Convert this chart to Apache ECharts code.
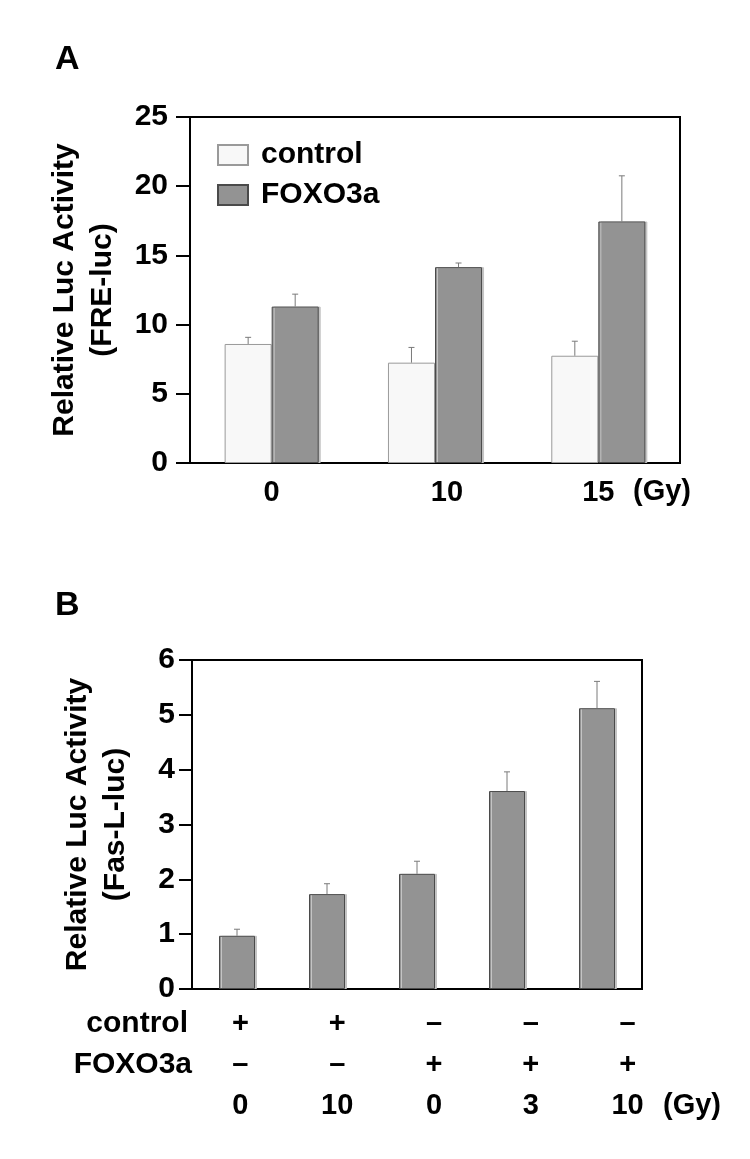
<!DOCTYPE html>
<html>
<head>
<meta charset="utf-8">
<script src="https://cdn.jsdelivr.net/npm/echarts@6/dist/echarts.min.js"></script>
<style>
html,body{margin:0;padding:0;background:#fff;}
#chart{width:750px;height:1159px;}
</style>
</head>
<body>
<div id="chart"></div>
<script>
// Panel A data
const doseA = ['0', '10', '15'];
const controlA = [8.6, 7.25, 7.75];
const controlErrA = [0.48, 1.1, 1.05];
const foxoA = [11.3, 14.15, 17.45];
const foxoErrA = [0.9, 0.3, 3.3];
const yTicksA = { min: 0, max: 25, interval: 5 };

// Panel B data
const controlRowB = ['+', '+', '–', '–', '–'];
const foxoRowB = ['–', '–', '+', '+', '+'];
const doseB = ['0', '10', '0', '3', '10'];
const valuesB = [0.97, 1.73, 2.10, 3.61, 5.12];
const errB = [0.12, 0.19, 0.23, 0.35, 0.49];
const yTicksB = { min: 0, max: 6, interval: 1 };

const FONT = '"Liberation Sans", Arial, Helvetica, sans-serif';
const chart = echarts.init(document.getElementById('chart'), null, { renderer: 'canvas' });

function errRenderer(offsetFrac) {
  return function (params, api) {
    const idx = api.value(0), v = api.value(1), e = api.value(2);
    const band = api.size([1, 0])[0];
    const p0 = api.coord([idx, v]);
    const p1 = api.coord([idx, v + e]);
    const x = p0[0] + offsetFrac * band;
    const cap = 3;
    const st = { stroke: '#7a7a7a', lineWidth: 1 };
    return {
      type: 'group',
      children: [
        { type: 'line', shape: { x1: x, y1: p0[1], x2: x, y2: p1[1] }, style: st },
        { type: 'line', shape: { x1: x - cap, y1: p1[1], x2: x + cap, y2: p1[1] }, style: st }
      ]
    };
  };
}

const axisLineStyle = { show: true, lineStyle: { color: '#000', width: 2 } };
const yLabel = { fontSize: 30, fontWeight: 'bold', color: '#000', fontFamily: FONT };

const foxoStyle = { color: '#939393', borderColor: '#4a4a4a', borderWidth: 1, shadowColor: '#c4c4c4', shadowOffsetX: 2, shadowBlur: 0 };
const ctrlStyle = { color: '#f8f8f8', borderColor: '#9a9a9a', borderWidth: 1 };

const option = {
  backgroundColor: '#fff',
  animation: false,
  textStyle: { fontFamily: FONT },
  title: [
    { text: 'A', left: 50, top: 38, textStyle: { fontSize: 34, fontWeight: 'bold', color: '#000', fontFamily: FONT } },
    { text: 'B', left: 50, top: 584, textStyle: { fontSize: 34, fontWeight: 'bold', color: '#000', fontFamily: FONT } }
  ],
  legend: {
    data: ['control', 'FOXO3a'],
    orient: 'vertical',
    left: 217, top: 140,
    padding: 0,
    itemWidth: 30, itemHeight: 20, itemGap: 10,
    icon: 'rect',
    textStyle: { fontSize: 30, fontWeight: 'bold', color: '#000', lineHeight: 30, fontFamily: FONT, padding: [0, 0, 0, 8] }
  },
  grid: [
    { left: 190, top: 117, width: 490, height: 346, show: true, borderColor: '#000', borderWidth: 2, backgroundColor: 'transparent' },
    { left: 192, top: 660, width: 450, height: 329, show: true, borderColor: '#000', borderWidth: 2, backgroundColor: 'transparent' },
    { left: 192, top: 660, width: 484, height: 329 }
  ],
  xAxis: [
    {
      type: 'category', gridIndex: 0,
      data: doseA.map((d, i) => i === 1 ? { value: d, textStyle: { padding: [0, 0, 0, 24] } } : d),
      axisLine: axisLineStyle, axisTick: { show: false },
      axisLabel: { fontSize: 29, fontWeight: 'bold', color: '#000', margin: 15, fontFamily: FONT }
    },
    {
      type: 'category', gridIndex: 1, data: doseB,
      axisLine: axisLineStyle, axisTick: { show: false }, axisLabel: { show: false }
    },
    {
      type: 'category', gridIndex: 2,
      data: doseB.map((d, i) => controlRowB[i] + '\n' + foxoRowB[i] + '\n' + d),
      axisLine: { show: false }, axisTick: { show: false },
      axisLabel: { fontSize: 29, fontWeight: 'bold', color: '#000', lineHeight: 41, margin: 14, fontFamily: FONT }
    }
  ],
  yAxis: [
    {
      type: 'value', gridIndex: 0, min: yTicksA.min, max: yTicksA.max, interval: yTicksA.interval,
      name: 'Relative Luc Activity\n(FRE-luc)', nameLocation: 'middle', nameRotate: 90, nameGap: 68,
      nameTextStyle: { fontSize: 30, fontWeight: 'bold', color: '#000', lineHeight: 38, fontFamily: FONT },
      axisLine: axisLineStyle,
      axisTick: { show: true, inside: false, length: 14, lineStyle: { color: '#000', width: 2 } },
      axisLabel: Object.assign({ margin: 22 }, yLabel),
      splitLine: { show: false }
    },
    {
      type: 'value', gridIndex: 1, min: yTicksB.min, max: yTicksB.max, interval: yTicksB.interval,
      name: 'Relative Luc Activity\n(Fas-L-luc)', nameLocation: 'middle', nameRotate: 90, nameGap: 57,
      nameTextStyle: { fontSize: 30, fontWeight: 'bold', color: '#000', lineHeight: 38, fontFamily: FONT },
      axisLine: axisLineStyle,
      axisTick: { show: true, inside: false, length: 13, lineStyle: { color: '#000', width: 2 } },
      axisLabel: Object.assign({ margin: 17 }, yLabel),
      splitLine: { show: false }
    },
    {
      type: 'value', gridIndex: 2, show: false, min: 0, max: 1
    }
  ],
  series: [
    {
      name: 'control', type: 'bar', xAxisIndex: 0, yAxisIndex: 0,
      data: controlA, barWidth: '28.8%', barGap: '0%', itemStyle: ctrlStyle
    },
    {
      name: 'FOXO3a', type: 'bar', xAxisIndex: 0, yAxisIndex: 0,
      data: foxoA, barWidth: '28.8%', barGap: '0%', itemStyle: foxoStyle
    },
    {
      name: 'errControlA', type: 'custom', xAxisIndex: 0, yAxisIndex: 0, z: 5,
      data: controlA.map((v, i) => [i, v, controlErrA[i]]),
      renderItem: errRenderer(-0.144)
    },
    {
      name: 'errFoxoA', type: 'custom', xAxisIndex: 0, yAxisIndex: 0, z: 5,
      data: foxoA.map((v, i) => [i, v, foxoErrA[i]]),
      renderItem: errRenderer(0.144)
    },
    {
      name: 'B', type: 'bar', xAxisIndex: 1, yAxisIndex: 1,
      data: valuesB, barWidth: '40%', itemStyle: foxoStyle
    },
    {
      name: 'errB', type: 'custom', xAxisIndex: 1, yAxisIndex: 1, z: 5,
      data: valuesB.map((v, i) => [i, v, errB[i]]),
      renderItem: errRenderer(0)
    }
  ],
  graphic: [
    { type: 'text', left: 633, top: 477, style: { text: '(Gy)', fontSize: 29, fontWeight: 'bold', fill: '#000', fontFamily: FONT } },
    { type: 'text', right: 750 - 188, top: 1009, style: { text: 'control', fontSize: 30, fontWeight: 'bold', fill: '#000', fontFamily: FONT, textAlign: 'right' } },
    { type: 'text', right: 750 - 192, top: 1050, style: { text: 'FOXO3a', fontSize: 30, fontWeight: 'bold', fill: '#000', fontFamily: FONT, textAlign: 'right' } },
    { type: 'text', left: 663, top: 1091, style: { text: '(Gy)', fontSize: 29, fontWeight: 'bold', fill: '#000', fontFamily: FONT } }
  ]
};
chart.setOption(option);
</script>
</body>
</html>
